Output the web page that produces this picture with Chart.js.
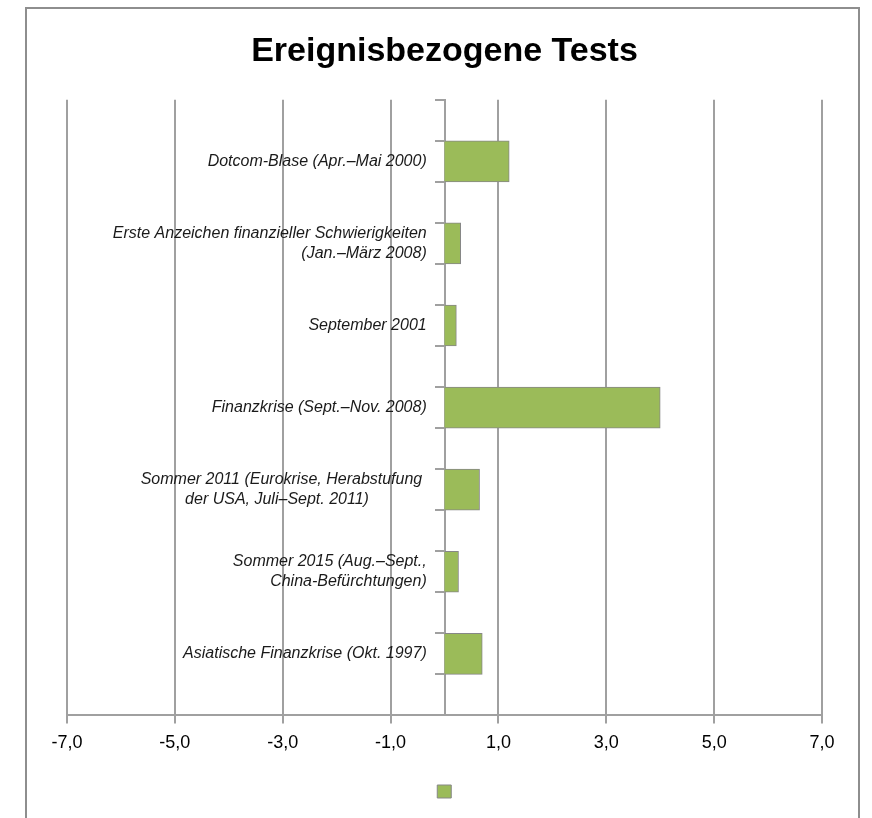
<!DOCTYPE html>
<html>
<head>
<meta charset="utf-8">
<script src="https://cdn.jsdelivr.net/npm/chart.js@4.4.1/dist/chart.umd.min.js"></script>
<style>
  html, body { margin: 0; padding: 0; background: #ffffff; }
  #wrap { position: relative; width: 872px; height: 818px; overflow: hidden; }
  #frame { position: absolute; left: 25px; top: 7px; width: 835px; height: 900px;
           border: 2px solid #8e8e8e; box-sizing: border-box; }
  #c { position: absolute; left: 0; top: 0; }
</style>
</head>
<body>
<div id="wrap">
  <div id="frame"></div>
  <canvas id="c" width="872" height="818" style="width:872px;height:818px"></canvas>
</div>
<script>
// ---- data ----
const chartTitle = 'Ereignisbezogene Tests';
const categories = [
  'Dotcom-Blase (Apr.–Mai 2000)',
  ['Erste Anzeichen finanzieller Schwierigkeiten', '(Jan.–März 2008)'],
  'September 2001',
  'Finanzkrise (Sept.–Nov. 2008)',
  ['Sommer 2011 (Eurokrise, Herabstufung ', 'der USA, Juli–Sept. 2011)             '],
  ['Sommer 2015 (Aug.–Sept.,', 'China-Befürchtungen)'],
  'Asiatische Finanzkrise (Okt. 1997)'
];
const seriesValues = [1.2, 0.3, 0.22, 4.0, 0.65, 0.26, 0.7];
const xTicks = [-7, -5, -3, -1, 1, 3, 5, 7];
const seriesLabel = '';

// Category slots: the original chart leaves an empty slot between every event
const slotLabels = [''];
const slotValues = [null];
categories.forEach((c, i) => {
  slotLabels.push(c, '');
  slotValues.push(seriesValues[i], null);
});

const GRID = '#a0a0a0';
const FONT = "'Liberation Sans', Arial, Helvetica, sans-serif";

new Chart(document.getElementById('c'), {
  type: 'bar',
  data: {
    labels: slotLabels,
    datasets: [{
      label: seriesLabel,
      data: slotValues,
      backgroundColor: '#9bbb59',
      borderColor: '#878787',
      borderWidth: 1,
      categoryPercentage: 1.0,
      barPercentage: 1.0
    }]
  },
  options: {
    indexAxis: 'y',
    responsive: false,
    animation: false,
    layout: { padding: { left: 67, right: 50, top: 0, bottom: 10 } },
    scales: {
      x: {
        type: 'linear',
        position: 'bottom',
        min: -7,
        max: 7,
        afterBuildTicks: (scale) => { scale.ticks = xTicks.map(v => ({ value: v })); },
        ticks: {
          color: '#000',
          font: { family: FONT, size: 18 },
          padding: 9,
          callback: (v) => Number(v).toFixed(1).replace('.', ',')
        },
        grid: { color: GRID, lineWidth: 2, tickLength: 8, drawTicks: true },
        border: { display: true, color: GRID, width: 2 }
      },
      y: {
        type: 'category',
        axis: 'y',
        position: { x: 0 },
        offset: true,
        ticks: { display: false },
        grid: { display: true, drawOnChartArea: false, drawTicks: true, tickLength: 9,
                color: GRID, lineWidth: 2, offset: true },
        border: { display: true, color: GRID, width: 2 }
      },
      yl: {
        type: 'category',
        axis: 'y',
        position: { x: -0.33 },
        offset: true,
        ticks: {
          color: '#1a1a1a',
          font: { family: FONT, size: 16, style: 'italic', lineHeight: 1.25 },
          autoSkip: false
        },
        grid: { display: false, drawTicks: false },
        border: { display: false }
      }
    },
    plugins: {
      title: {
        display: true,
        text: chartTitle,
        color: '#000',
        font: { family: FONT, size: 34, weight: 'bold' },
        padding: { top: 31, bottom: 28 }
      },
      legend: {
        display: true,
        position: 'bottom',
        labels: {
          boxWidth: 14,
          boxHeight: 13,
          padding: 22,
          font: { family: FONT, size: 1 },
          color: '#000'
        }
      },
      tooltip: { enabled: false }
    }
  }
});
</script>
</body>
</html>
